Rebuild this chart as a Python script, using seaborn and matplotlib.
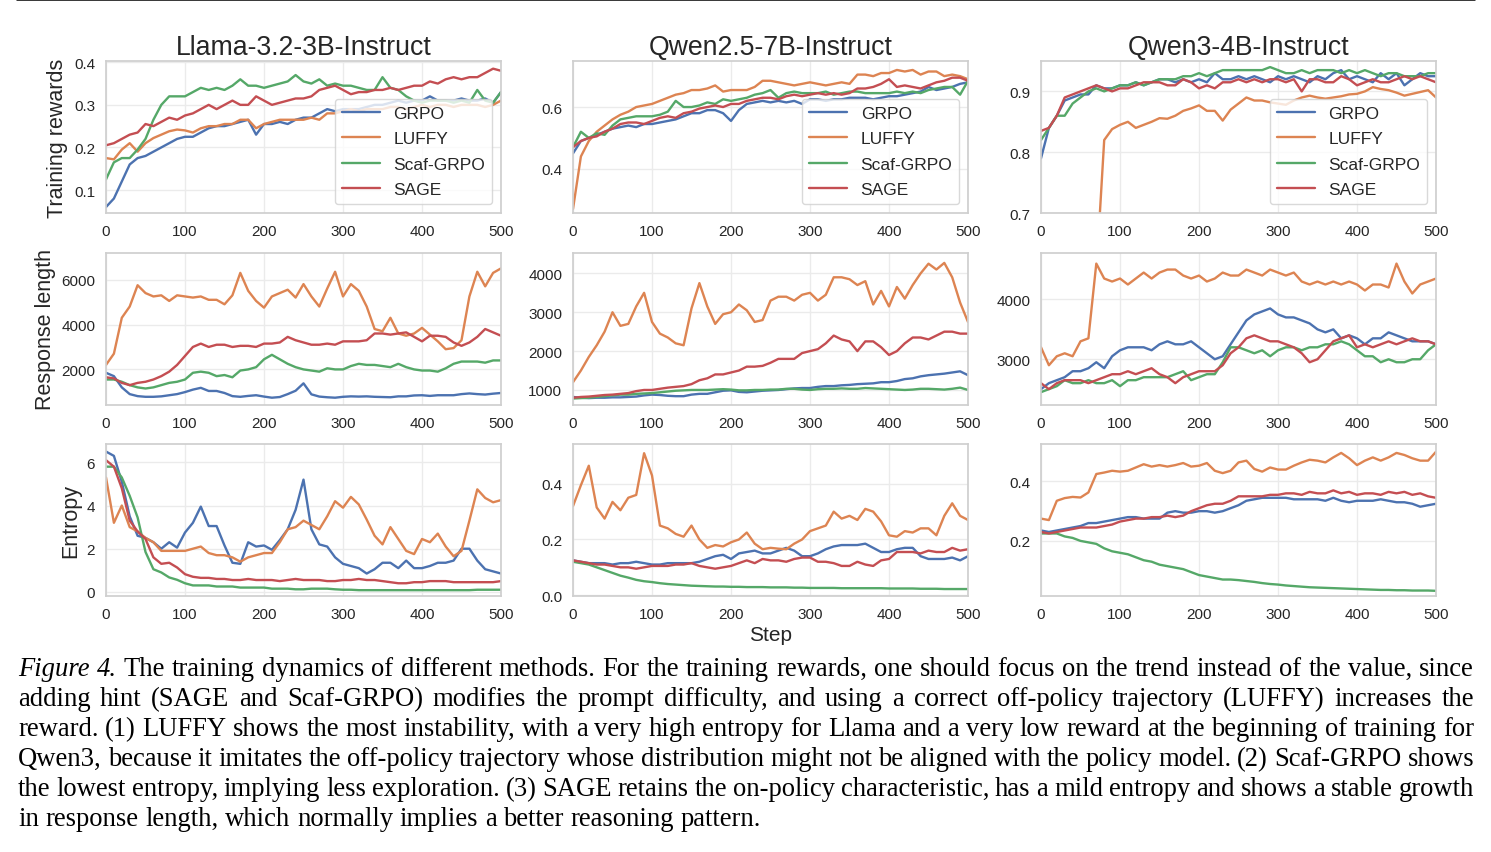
import pandas as pd
import seaborn as sns
import matplotlib.pyplot as plt
from matplotlib.lines import Line2D

steps = list(range(0, 501, 10))
methods = ["GRPO", "LUFFY", "Scaf-GRPO", "SAGE"]
models = ["Llama-3.2-3B-Instruct", "Qwen2.5-7B-Instruct", "Qwen3-4B-Instruct"]
metrics = ["Training rewards", "Response length", "Entropy"]

# ---- training rewards (one value every 10 steps, 0..500) ----
llama_reward_grpo = [
    0.06, 0.08, 0.12, 0.16, 0.175, 0.18, 0.19, 0.20, 0.21, 0.22,
    0.225, 0.225, 0.235, 0.245, 0.25, 0.25, 0.255, 0.26, 0.265, 0.23,
    0.255, 0.255, 0.26, 0.255, 0.265, 0.27, 0.27, 0.28, 0.29, 0.285,
    0.29, 0.29, 0.29, 0.295, 0.30, 0.30, 0.305, 0.31, 0.305, 0.31,
    0.31, 0.32, 0.31, 0.31, 0.31, 0.315, 0.31, 0.31, 0.315, 0.305,
    0.33]
llama_reward_luffy = [
    0.175, 0.172, 0.195, 0.21, 0.19, 0.21, 0.222, 0.23, 0.238, 0.242,
    0.24, 0.235, 0.245, 0.25, 0.25, 0.255, 0.255, 0.265, 0.265, 0.245,
    0.255, 0.26, 0.265, 0.265, 0.265, 0.265, 0.27, 0.265, 0.28, 0.28,
    0.285, 0.29, 0.285, 0.29, 0.29, 0.29, 0.295, 0.295, 0.29, 0.295,
    0.30, 0.295, 0.30, 0.30, 0.295, 0.30, 0.30, 0.30, 0.295, 0.30,
    0.31]
llama_reward_scaf = [
    0.125, 0.165, 0.175, 0.175, 0.195, 0.22, 0.265, 0.30, 0.32, 0.32,
    0.32, 0.33, 0.34, 0.335, 0.34, 0.335, 0.345, 0.36, 0.345, 0.345,
    0.34, 0.345, 0.35, 0.355, 0.37, 0.355, 0.35, 0.36, 0.345, 0.35,
    0.345, 0.345, 0.34, 0.335, 0.335, 0.365, 0.34, 0.335, 0.32, 0.31,
    0.305, 0.31, 0.31, 0.31, 0.305, 0.31, 0.305, 0.335, 0.31, 0.305,
    0.33]
llama_reward_sage = [
    0.205, 0.21, 0.22, 0.23, 0.235, 0.255, 0.25, 0.26, 0.27, 0.265,
    0.275, 0.28, 0.29, 0.30, 0.29, 0.30, 0.31, 0.30, 0.30, 0.32,
    0.31, 0.30, 0.305, 0.31, 0.315, 0.315, 0.32, 0.335, 0.34, 0.345,
    0.335, 0.325, 0.33, 0.33, 0.335, 0.335, 0.34, 0.335, 0.34, 0.345,
    0.345, 0.355, 0.35, 0.36, 0.365, 0.36, 0.365, 0.365, 0.375, 0.385,
    0.38]

qwen25_reward_grpo = [
    0.45, 0.49, 0.50, 0.51, 0.52, 0.53, 0.535, 0.54, 0.535, 0.545,
    0.545, 0.55, 0.555, 0.56, 0.57, 0.58, 0.58, 0.59, 0.59, 0.58,
    0.555, 0.59, 0.61, 0.615, 0.62, 0.615, 0.62, 0.615, 0.62, 0.61,
    0.625, 0.625, 0.62, 0.625, 0.625, 0.63, 0.63, 0.63, 0.625, 0.63,
    0.635, 0.635, 0.64, 0.645, 0.65, 0.665, 0.655, 0.66, 0.665, 0.675,
    0.68]
qwen25_reward_luffy = [
    0.27, 0.44, 0.49, 0.52, 0.54, 0.56, 0.575, 0.585, 0.60, 0.605,
    0.61, 0.62, 0.63, 0.64, 0.645, 0.655, 0.655, 0.66, 0.67, 0.65,
    0.655, 0.655, 0.655, 0.665, 0.685, 0.685, 0.68, 0.675, 0.67, 0.675,
    0.68, 0.675, 0.67, 0.675, 0.68, 0.675, 0.705, 0.705, 0.70, 0.71,
    0.71, 0.72, 0.715, 0.72, 0.705, 0.715, 0.715, 0.70, 0.705, 0.70,
    0.69]
qwen25_reward_scaf = [
    0.47, 0.52, 0.50, 0.515, 0.51, 0.54, 0.56, 0.565, 0.57, 0.57,
    0.57, 0.575, 0.585, 0.62, 0.60, 0.60, 0.605, 0.615, 0.61, 0.625,
    0.62, 0.625, 0.63, 0.64, 0.645, 0.655, 0.63, 0.645, 0.65, 0.645,
    0.645, 0.645, 0.65, 0.64, 0.645, 0.65, 0.65, 0.645, 0.645, 0.645,
    0.645, 0.65, 0.645, 0.65, 0.645, 0.655, 0.66, 0.665, 0.665, 0.64,
    0.685]
qwen25_reward_sage = [
    0.47, 0.49, 0.50, 0.505, 0.52, 0.53, 0.545, 0.55, 0.55, 0.545,
    0.555, 0.565, 0.57, 0.565, 0.58, 0.585, 0.595, 0.60, 0.605, 0.60,
    0.61, 0.61, 0.62, 0.625, 0.63, 0.63, 0.625, 0.635, 0.64, 0.635,
    0.64, 0.645, 0.64, 0.645, 0.64, 0.645, 0.66, 0.66, 0.665, 0.675,
    0.69, 0.665, 0.67, 0.665, 0.66, 0.67, 0.68, 0.685, 0.695, 0.695,
    0.685]

qwen3_reward_grpo = [
    0.79, 0.84, 0.86, 0.885, 0.89, 0.895, 0.895, 0.91, 0.905, 0.905,
    0.91, 0.91, 0.915, 0.91, 0.915, 0.92, 0.92, 0.915, 0.92, 0.915,
    0.92, 0.915, 0.93, 0.92, 0.92, 0.925, 0.92, 0.925, 0.92, 0.915,
    0.925, 0.92, 0.925, 0.92, 0.915, 0.925, 0.92, 0.93, 0.935, 0.92,
    0.925, 0.92, 0.915, 0.93, 0.92, 0.93, 0.91, 0.92, 0.93, 0.925,
    0.925]
# LUFFY starts far below the visible range on Qwen3 (first steps not readable)
qwen3_reward_luffy = [
    None, None, None, None, None, None, None, 0.60, 0.82, 0.838,
    0.845, 0.85, 0.84, 0.845, 0.85, 0.856, 0.855, 0.86, 0.868, 0.872,
    0.877, 0.868, 0.868, 0.852, 0.87, 0.88, 0.89, 0.885, 0.885, 0.882,
    0.88, 0.878, 0.885, 0.89, 0.893, 0.89, 0.888, 0.89, 0.892, 0.895,
    0.896, 0.90, 0.907, 0.904, 0.902, 0.898, 0.893, 0.896, 0.899, 0.902,
    0.89]
qwen3_reward_scaf = [
    0.82, 0.84, 0.86, 0.86, 0.88, 0.89, 0.90, 0.905, 0.90, 0.905,
    0.91, 0.91, 0.915, 0.91, 0.915, 0.92, 0.92, 0.92, 0.925, 0.925,
    0.93, 0.925, 0.93, 0.935, 0.935, 0.935, 0.935, 0.935, 0.935, 0.94,
    0.935, 0.93, 0.93, 0.935, 0.93, 0.935, 0.935, 0.935, 0.93, 0.935,
    0.93, 0.935, 0.93, 0.925, 0.93, 0.93, 0.925, 0.925, 0.925, 0.93,
    0.93]
qwen3_reward_sage = [
    0.835, 0.84, 0.86, 0.89, 0.895, 0.90, 0.905, 0.91, 0.905, 0.90,
    0.905, 0.905, 0.91, 0.915, 0.915, 0.915, 0.91, 0.91, 0.92, 0.915,
    0.905, 0.91, 0.905, 0.915, 0.915, 0.92, 0.915, 0.92, 0.915, 0.92,
    0.92, 0.915, 0.92, 0.90, 0.92, 0.92, 0.915, 0.915, 0.925, 0.92,
    0.91, 0.915, 0.92, 0.915, 0.915, 0.92, 0.925, 0.92, 0.925, 0.92,
    0.915]

# ---- response length ----
llama_len_grpo = [
    1850, 1700, 1200, 900, 810, 780, 780, 800, 850, 900,
    990, 1100, 1180, 1040, 1040, 950, 810, 780, 820, 850,
    790, 740, 770, 900, 1050, 1380, 890, 790, 760, 740,
    780, 800, 790, 800, 780, 770, 760, 800, 800, 840,
    850, 820, 850, 850, 850, 900, 930, 900, 880, 920,
    950]
llama_len_luffy = [
    2200, 2700, 4300, 4800, 5750, 5400, 5250, 5300, 5050, 5300,
    5250, 5200, 5250, 5100, 5100, 4900, 5300, 6300, 5500, 5050,
    4750, 5250, 5400, 5550, 5200, 5800, 5250, 4800, 5600, 6350,
    5250, 5800, 5500, 4800, 3800, 3700, 4300, 3600, 3500, 3600,
    3850, 3550, 3250, 2900, 2950, 3300, 5250, 6350, 5700, 6300,
    6500]
llama_len_scaf = [
    1550, 1550, 1450, 1300, 1200, 1150, 1200, 1300, 1400, 1450,
    1550, 1850, 1900, 1850, 1700, 1750, 1650, 1950, 2000, 2100,
    2450, 2650, 2450, 2250, 2100, 2000, 1950, 1900, 2050, 2000,
    2000, 2150, 2250, 2200, 2200, 2150, 2100, 2250, 2100, 2000,
    1950, 1950, 1900, 2050, 2250, 2350, 2350, 2350, 2300, 2400,
    2400]
llama_len_sage = [
    1650, 1600, 1400, 1300, 1400, 1450, 1550, 1700, 1900, 2200,
    2600, 3000, 3150, 3000, 3100, 3100, 3000, 3050, 3050, 3000,
    3150, 3150, 3200, 3450, 3300, 3200, 3100, 3100, 3150, 3100,
    3250, 3250, 3250, 3300, 3600, 3600, 3550, 3600, 3650, 3450,
    3250, 3500, 3500, 3450, 3200, 3050, 3200, 3450, 3800, 3650,
    3500]

qwen25_len_grpo = [
    820, 800, 790, 800, 800, 810, 810, 820, 830, 860,
    880, 870, 850, 840, 840, 880, 900, 900, 940, 980,
    990, 950, 940, 960, 980, 990, 1000, 1020, 1040, 1050,
    1050, 1080, 1100, 1100, 1120, 1130, 1150, 1160, 1170, 1200,
    1200, 1230, 1280, 1300, 1350, 1380, 1400, 1420, 1450, 1480,
    1380]
qwen25_len_luffy = [
    1200, 1500, 1850, 2150, 2500, 3000, 2650, 2700, 3150, 3500,
    2750, 2450, 2350, 2200, 2150, 3100, 3750, 3150, 2700, 2950,
    3000, 3200, 3050, 2750, 2800, 3300, 3400, 3400, 3300, 3450,
    3500, 3300, 3450, 3900, 3900, 3850, 3700, 3800, 3200, 3550,
    3150, 3650, 3350, 3700, 4000, 4250, 4100, 4270, 3900, 3250,
    2750]
qwen25_len_scaf = [
    780, 790, 800, 820, 840, 860, 880, 880, 900, 910,
    920, 940, 960, 980, 990, 1000, 1000, 1000, 1010, 1020,
    1010, 990, 990, 1000, 1000, 1010, 1010, 1030, 1030, 1010,
    1000, 1020, 1030, 1030, 1040, 1030, 1030, 1050, 1040, 1030,
    1020, 1010, 1000, 1010, 1030, 1030, 1020, 1010, 1030, 1060,
    1000]
qwen25_len_sage = [
    800, 820, 830, 850, 870, 880, 900, 920, 970, 1000,
    1000, 1030, 1060, 1080, 1100, 1150, 1250, 1300, 1400, 1400,
    1450, 1500, 1600, 1600, 1620, 1700, 1800, 1800, 1800, 1950,
    2000, 2050, 2200, 2400, 2300, 2250, 2000, 2250, 2250, 2100,
    1900, 2000, 2200, 2350, 2350, 2300, 2400, 2500, 2500, 2450,
    2450]

qwen3_len_grpo = [
    2500, 2600, 2650, 2700, 2800, 2800, 2850, 2950, 2850, 3050,
    3150, 3200, 3200, 3200, 3150, 3250, 3300, 3250, 3250, 3300,
    3200, 3100, 3000, 3050, 3250, 3450, 3650, 3750, 3800, 3850,
    3750, 3700, 3700, 3650, 3600, 3500, 3450, 3500, 3350, 3400,
    3350, 3250, 3350, 3350, 3450, 3400, 3350, 3300, 3300, 3300,
    3250]
qwen3_len_luffy = [
    3200, 2900, 3050, 3100, 3050, 3300, 3350, 4600, 4350, 4300,
    4350, 4250, 4350, 4450, 4350, 4450, 4500, 4500, 4400, 4350,
    4400, 4300, 4350, 4450, 4400, 4400, 4500, 4450, 4400, 4500,
    4450, 4400, 4450, 4300, 4250, 4300, 4250, 4300, 4250, 4300,
    4250, 4150, 4250, 4250, 4200, 4600, 4300, 4100, 4250, 4300,
    4350]
qwen3_len_scaf = [
    2450, 2500, 2550, 2650, 2600, 2600, 2650, 2600, 2600, 2650,
    2550, 2650, 2650, 2700, 2700, 2700, 2700, 2750, 2800, 2650,
    2700, 2750, 2750, 2950, 3200, 3200, 3150, 3100, 3150, 3050,
    3150, 3200, 3200, 3150, 3200, 3200, 3250, 3250, 3300, 3250,
    3150, 3050, 3050, 2950, 3000, 2950, 2950, 3000, 3000, 3150,
    3250]
qwen3_len_sage = [
    2600, 2500, 2600, 2650, 2650, 2650, 2600, 2650, 2700, 2750,
    2750, 2800, 2750, 2800, 2850, 2750, 2700, 2600, 2700, 2750,
    2800, 2800, 2800, 2900, 3100, 3200, 3350, 3400, 3350, 3300,
    3300, 3250, 3200, 3100, 2950, 3000, 3150, 3300, 3350, 3400,
    3200, 3250, 3200, 3250, 3300, 3250, 3300, 3350, 3300, 3300,
    3250]

# ---- entropy ----
llama_ent_grpo = [
    6.5, 6.3, 5.1, 3.5, 2.6, 2.5, 2.3, 2.0, 2.3, 2.05,
    2.75, 3.2, 3.95, 3.05, 3.05, 2.15, 1.35, 1.3, 2.3, 2.1,
    2.15, 1.95, 2.4, 2.9, 3.8, 5.2, 2.9, 2.2, 2.1, 1.6,
    1.3, 1.2, 1.1, 0.85, 1.05, 1.35, 1.35, 1.1, 1.45, 1.1,
    1.1, 1.2, 1.35, 1.35, 1.45, 2.0, 2.0, 1.45, 1.05, 0.95,
    0.85]
llama_ent_luffy = [
    5.3, 3.2, 4.0, 3.0, 2.8, 2.5, 2.3, 1.9, 1.9, 1.9,
    1.9, 2.0, 2.1, 1.8, 1.7, 1.7, 1.6, 1.4, 1.6, 1.7,
    1.8, 1.8, 2.3, 2.9, 3.0, 3.3, 3.1, 2.9, 3.5, 4.2,
    3.9, 4.4, 4.05, 3.35, 2.6, 2.2, 3.0, 2.45, 1.9, 1.75,
    2.45, 2.3, 2.7, 2.1, 1.65, 1.9, 3.3, 4.75, 4.35, 4.15,
    4.25]
llama_ent_scaf = [
    5.8, 5.8, 5.3, 4.45, 3.45, 1.85, 1.05, 0.9, 0.67, 0.56,
    0.4, 0.3, 0.3, 0.3, 0.25, 0.25, 0.25, 0.2, 0.2, 0.2,
    0.2, 0.15, 0.15, 0.15, 0.12, 0.12, 0.15, 0.15, 0.15, 0.12,
    0.1, 0.1, 0.08, 0.08, 0.08, 0.08, 0.08, 0.08, 0.08, 0.08,
    0.08, 0.08, 0.08, 0.08, 0.08, 0.08, 0.08, 0.1, 0.1, 0.1,
    0.1]
llama_ent_sage = [
    6.1, 5.8, 4.8, 3.3, 2.8, 2.45, 1.6, 1.3, 1.35, 1.13,
    0.82, 0.7, 0.65, 0.65, 0.6, 0.6, 0.55, 0.55, 0.6, 0.55,
    0.55, 0.55, 0.5, 0.55, 0.6, 0.55, 0.55, 0.55, 0.5, 0.5,
    0.55, 0.55, 0.6, 0.55, 0.55, 0.5, 0.45, 0.4, 0.4, 0.45,
    0.45, 0.5, 0.5, 0.5, 0.45, 0.45, 0.45, 0.45, 0.45, 0.45,
    0.5]

qwen25_ent_grpo = [
    0.125, 0.12, 0.115, 0.115, 0.115, 0.11, 0.115, 0.115, 0.12, 0.115,
    0.11, 0.11, 0.115, 0.115, 0.115, 0.115, 0.12, 0.13, 0.14, 0.145,
    0.13, 0.15, 0.155, 0.16, 0.15, 0.15, 0.16, 0.17, 0.16, 0.14,
    0.14, 0.15, 0.165, 0.175, 0.18, 0.18, 0.18, 0.185, 0.17, 0.155,
    0.155, 0.165, 0.17, 0.17, 0.14, 0.13, 0.13, 0.13, 0.135, 0.125,
    0.14]
qwen25_ent_luffy = [
    0.32, 0.395, 0.465, 0.315, 0.275, 0.335, 0.305, 0.35, 0.36, 0.51,
    0.43, 0.25, 0.24, 0.22, 0.21, 0.25, 0.20, 0.17, 0.18, 0.175,
    0.19, 0.20, 0.225, 0.185, 0.165, 0.17, 0.167, 0.165, 0.185, 0.20,
    0.23, 0.24, 0.25, 0.30, 0.275, 0.285, 0.27, 0.31, 0.30, 0.265,
    0.215, 0.21, 0.23, 0.225, 0.24, 0.24, 0.215, 0.285, 0.33, 0.285,
    0.27]
qwen25_ent_scaf = [
    0.12, 0.115, 0.11, 0.10, 0.09, 0.08, 0.07, 0.063, 0.055, 0.05,
    0.047, 0.043, 0.04, 0.038, 0.036, 0.034, 0.033, 0.032, 0.031, 0.031,
    0.03, 0.03, 0.029, 0.029, 0.029, 0.028, 0.028, 0.028, 0.027, 0.027,
    0.026, 0.026, 0.026, 0.026, 0.025, 0.025, 0.025, 0.025, 0.025, 0.025,
    0.024, 0.024, 0.024, 0.024, 0.023, 0.023, 0.023, 0.022, 0.022, 0.022,
    0.022]
qwen25_ent_sage = [
    0.125, 0.12, 0.115, 0.11, 0.11, 0.105, 0.10, 0.10, 0.095, 0.10,
    0.105, 0.105, 0.105, 0.11, 0.11, 0.115, 0.105, 0.10, 0.095, 0.10,
    0.105, 0.115, 0.125, 0.115, 0.13, 0.125, 0.125, 0.12, 0.13, 0.135,
    0.135, 0.12, 0.12, 0.115, 0.105, 0.105, 0.12, 0.11, 0.105, 0.125,
    0.13, 0.155, 0.155, 0.155, 0.15, 0.16, 0.155, 0.155, 0.17, 0.16,
    0.165]

qwen3_ent_grpo = [
    0.235, 0.23, 0.235, 0.24, 0.245, 0.25, 0.26, 0.26, 0.265, 0.27,
    0.275, 0.28, 0.28, 0.275, 0.275, 0.275, 0.295, 0.30, 0.295, 0.295,
    0.30, 0.30, 0.295, 0.30, 0.31, 0.32, 0.335, 0.34, 0.345, 0.345,
    0.345, 0.345, 0.34, 0.34, 0.34, 0.34, 0.335, 0.345, 0.335, 0.33,
    0.335, 0.335, 0.335, 0.34, 0.335, 0.33, 0.33, 0.325, 0.315, 0.32,
    0.325]
qwen3_ent_luffy = [
    0.275, 0.27, 0.335, 0.344, 0.348, 0.346, 0.363, 0.425, 0.43, 0.436,
    0.433, 0.436, 0.447, 0.458, 0.45, 0.455, 0.45, 0.455, 0.462, 0.45,
    0.453, 0.462, 0.436, 0.428, 0.436, 0.464, 0.47, 0.442, 0.433, 0.447,
    0.44, 0.44, 0.453, 0.464, 0.473, 0.47, 0.464, 0.481, 0.496, 0.478,
    0.455, 0.47, 0.481, 0.47, 0.481, 0.496, 0.489, 0.478, 0.47, 0.47,
    0.50]
qwen3_ent_scaf = [
    0.225, 0.225, 0.225, 0.215, 0.21, 0.20, 0.195, 0.19, 0.175, 0.165,
    0.16, 0.155, 0.145, 0.135, 0.13, 0.12, 0.115, 0.11, 0.105, 0.095,
    0.085, 0.08, 0.075, 0.07, 0.07, 0.068, 0.065, 0.062, 0.058, 0.055,
    0.053, 0.05, 0.048, 0.046, 0.044, 0.043, 0.042, 0.041, 0.04, 0.039,
    0.038, 0.037, 0.036, 0.035, 0.035, 0.034, 0.034, 0.033, 0.033, 0.033,
    0.032]
qwen3_ent_sage = [
    0.23, 0.225, 0.23, 0.235, 0.24, 0.245, 0.245, 0.245, 0.25, 0.255,
    0.265, 0.27, 0.275, 0.275, 0.28, 0.28, 0.285, 0.28, 0.285, 0.30,
    0.31, 0.32, 0.325, 0.325, 0.335, 0.35, 0.35, 0.35, 0.35, 0.355,
    0.355, 0.36, 0.36, 0.355, 0.365, 0.36, 0.36, 0.37, 0.36, 0.365,
    0.355, 0.36, 0.36, 0.355, 0.365, 0.36, 0.365, 0.355, 0.36, 0.35,
    0.345]

panel_data = {
    ("Training rewards", 0): [llama_reward_grpo, llama_reward_luffy, llama_reward_scaf, llama_reward_sage],
    ("Training rewards", 1): [qwen25_reward_grpo, qwen25_reward_luffy, qwen25_reward_scaf, qwen25_reward_sage],
    ("Training rewards", 2): [qwen3_reward_grpo, qwen3_reward_luffy, qwen3_reward_scaf, qwen3_reward_sage],
    ("Response length", 0): [llama_len_grpo, llama_len_luffy, llama_len_scaf, llama_len_sage],
    ("Response length", 1): [qwen25_len_grpo, qwen25_len_luffy, qwen25_len_scaf, qwen25_len_sage],
    ("Response length", 2): [qwen3_len_grpo, qwen3_len_luffy, qwen3_len_scaf, qwen3_len_sage],
    ("Entropy", 0): [llama_ent_grpo, llama_ent_luffy, llama_ent_scaf, llama_ent_sage],
    ("Entropy", 1): [qwen25_ent_grpo, qwen25_ent_luffy, qwen25_ent_scaf, qwen25_ent_sage],
    ("Entropy", 2): [qwen3_ent_grpo, qwen3_ent_luffy, qwen3_ent_scaf, qwen3_ent_sage],
}

y_limits = {
    ("Training rewards", 0): (0.046, 0.403),
    ("Training rewards", 1): (0.257, 0.749),
    ("Training rewards", 2): (0.70, 0.95),
    ("Response length", 0): (415, 7185),
    ("Response length", 1): (613, 4525),
    ("Response length", 2): (2235, 4777),
    ("Entropy", 0): (-0.19, 6.85),
    ("Entropy", 1): (-0.003, 0.543),
    ("Entropy", 2): (0.0146, 0.526),
}
y_ticks = {
    ("Training rewards", 0): [0.1, 0.2, 0.3, 0.4],
    ("Training rewards", 1): [0.4, 0.6],
    ("Training rewards", 2): [0.7, 0.8, 0.9],
    ("Response length", 0): [2000, 4000, 6000],
    ("Response length", 1): [1000, 2000, 3000, 4000],
    ("Response length", 2): [3000, 4000],
    ("Entropy", 0): [0, 2, 4, 6],
    ("Entropy", 1): [0.0, 0.2, 0.4],
    ("Entropy", 2): [0.2, 0.4],
}

caption_lines = [
    "Figure 4. The training dynamics of different methods. For the training rewards, one should focus on the trend instead of the value, since",
    "adding hint (SAGE and Scaf-GRPO) modifies the prompt difficulty, and using a correct off-policy trajectory (LUFFY) increases the",
    "reward. (1) LUFFY shows the most instability, with a very high entropy for Llama and a very low reward at the beginning of training for",
    "Qwen3, because it imitates the off-policy trajectory whose distribution might not be aligned with the policy model. (2) Scaf-GRPO shows",
    "the lowest entropy, implying less exploration. (3) SAGE retains the on-policy characteristic, has a mild entropy and shows a stable growth",
    "in response length, which normally implies a better reasoning pattern.",
]

W, H = 1491, 853
COL_LEFT = [106, 573, 1041]
ROW_TOP = [62, 254, 445]
AX_W, AX_H = 395, 152


def build_frame(values):
    frames = []
    for method, vals in zip(methods, values):
        if len(vals) != len(steps):
            raise ValueError(f"{method}: {len(vals)} values")
        frames.append(pd.DataFrame({"Step": steps, "value": vals, "method": method}))
    df = pd.concat(frames, ignore_index=True)
    df["value"] = df["value"].astype(float)
    return df


def draw_panel(fig, row, col):
    metric = metrics[row]
    key = (metric, col)
    ax = fig.add_axes([COL_LEFT[col] / W, 1 - (ROW_TOP[row] + AX_H) / H, AX_W / W, AX_H / H])
    df = build_frame(panel_data[key])
    sns.lineplot(data=df, x="Step", y="value", hue="method", hue_order=methods,
                 palette="deep", estimator=None, errorbar=None, linewidth=1.7,
                 legend=(row == 0), ax=ax)
    ax.set_xlim(0, 500)
    ax.set_xticks(range(0, 501, 100))
    ax.set_ylim(*y_limits[key])
    ax.set_yticks(y_ticks[key])
    ax.tick_params(axis="x", labelsize=11, pad=2)
    ax.tick_params(axis="y", labelsize=11, pad=1.8)
    ax.set_xlabel("Step" if (row == 2 and col == 1) else "", fontsize=15, labelpad=3)
    ax.set_ylabel(metric if col == 0 else "", fontsize=15.5, labelpad=4)
    if row == 0:
        ax.set_title(models[col], fontsize=19.2, pad=5)
        sns.move_legend(ax, "lower right", title=None, fontsize=12.5, frameon=True,
                        handlelength=2.2, labelspacing=0.6, borderpad=0.4)
    return ax


def add_caption(fig):
    renderer = fig.canvas.get_renderer()
    x0, x1 = 18, 1474
    size = 19.2
    for i, line in enumerate(caption_lines):
        y = 1 - (676 + 30 * i) / H
        words = line.split(" ")
        texts = []
        for j, w in enumerate(words):
            style = "italic" if (i == 0 and j < 2) else "normal"
            texts.append(fig.text(0, y, w, fontsize=size, family="Liberation Serif",
                                  style=style, va="baseline", ha="left", color="black"))
        widths = [t.get_window_extent(renderer).width for t in texts]
        if i < len(caption_lines) - 1:
            gap = (x1 - x0 - sum(widths)) / (len(words) - 1)
        else:
            gap = size * 100 / 72 * 0.25
        x = x0
        for t, w in zip(texts, widths):
            t.set_x(x / W)
            x += w + gap


def main():
    sns.set_theme(style="whitegrid", palette="deep")
    plt.rcParams["font.family"] = ["Liberation Sans", "DejaVu Sans"]
    plt.rcParams.update({
        "axes.edgecolor": "#cfcfcf",
        "axes.linewidth": 1.25,
        "grid.color": "#ebebeb",
        "grid.linewidth": 1.0,
        "text.color": "#262626",
        "xtick.color": "#262626",
        "ytick.color": "#262626",
        "axes.labelcolor": "#262626",
        "legend.edgecolor": "#d0d0d0",
    })

    fig = plt.figure(figsize=(W / 100, H / 100), dpi=100)
    fig.add_artist(Line2D([17 / W, 1475 / W], [1 - 1.2 / H, 1 - 1.2 / H],
                          transform=fig.transFigure, color="black", linewidth=1.1))
    for row in range(3):
        for col in range(3):
            draw_panel(fig, row, col)
    fig.canvas.draw()
    add_caption(fig)
    fig.savefig("out.png", dpi=100)


if __name__ == "__main__":
    main()
